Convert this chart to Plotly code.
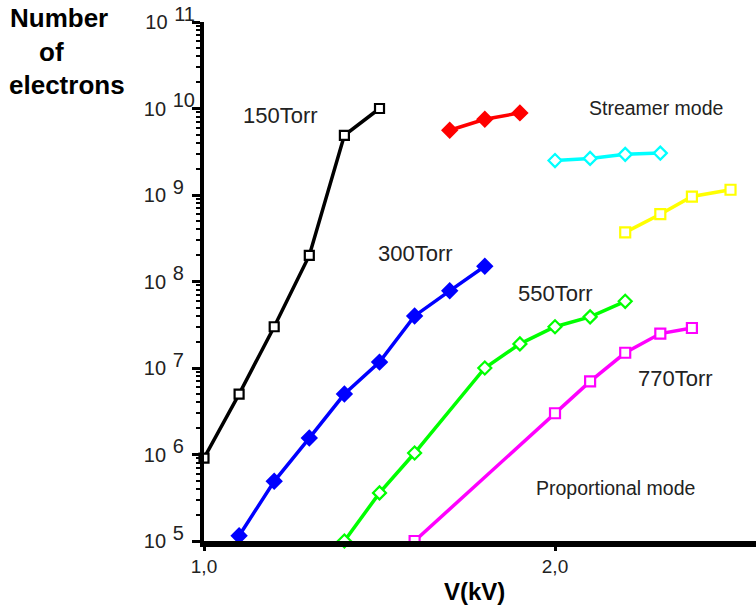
import plotly.graph_objects as go

# ---- data ----
v150 = [1.0, 1.1, 1.2, 1.3, 1.4, 1.5]
n150 = [9.1e5, 5.0e6, 3.0e7, 2.0e8, 4.9e9, 1.0e10]

v300 = [1.1, 1.2, 1.3, 1.4, 1.5, 1.6, 1.7, 1.8]
n300 = [1.15e5, 4.9e5, 1.55e6, 5.0e6, 1.17e7, 4.0e7, 7.8e7, 1.5e8]

v550 = [1.4, 1.5, 1.6, 1.8, 1.9, 2.0, 2.1, 2.2]
n550 = [1.0e5, 3.6e5, 1.04e6, 1.0e7, 1.9e7, 3.0e7, 3.9e7, 5.9e7]

v770 = [1.6, 2.0, 2.1, 2.2, 2.3, 2.39]
n770 = [1.0e5, 3.0e6, 7.0e6, 1.5e7, 2.5e7, 2.9e7]

v_red = [1.7, 1.8, 1.9]
n_red = [5.6e9, 7.5e9, 8.9e9]

v_cyan = [2.0, 2.1, 2.2, 2.3]
n_cyan = [2.5e9, 2.65e9, 2.95e9, 3.05e9]

v_yel = [2.2, 2.3, 2.39, 2.5]
n_yel = [3.7e8, 6.0e8, 9.6e8, 1.15e9]

y_exps = [5, 6, 7, 8, 9, 10, 11]
x_ticks = [1.0, 2.0]
x_ticktext = ["1,0", "2,0"]

FONT = "Liberation Sans, Arial, sans-serif"

fig = go.Figure()

def add(x, y, color, symbol, filled, msize=10):
    fig.add_trace(go.Scatter(
        x=x, y=y, mode="lines+markers",
        line=dict(color=color, width=3.5),
        marker=dict(symbol=symbol, size=msize,
                    color=color if filled else "white",
                    line=dict(color=color, width=2.2)),
        cliponaxis=False, showlegend=False))

add(v150, n150, "black", "square", False, 9)
add(v300, n300, "#0000FF", "diamond", True, 11)
add(v550, n550, "#00FF00", "diamond", False, 10)
add(v770, n770, "#FF00FF", "square", False, 10)
add(v_red, n_red, "#FF0000", "diamond", True, 11)
add(v_cyan, n_cyan, "#00FFFF", "diamond", False, 10)
add(v_yel, n_yel, "#FFFF00", "square", False, 10)

NB = "\u00a0"
ytickvals = [10.0 ** e for e in y_exps]
yticktext = []
for e in y_exps:
    pad = "" if e >= 10 else NB * 2
    yticktext.append(
        f"10<span style='font-size:24px'>{NB}</span>"
        f"<sup><span style='font-size:20px'>{e}</span></sup>{pad}")

minor_vals = [k * 10.0 ** e for e in y_exps[:-1] for k in range(2, 10)]

fig.update_layout(
    width=756, height=610,
    margin=dict(l=204, r=0, t=22, b=69),
    paper_bgcolor="white", plot_bgcolor="white",
    font=dict(family=FONT, color="black"),
    xaxis=dict(range=[1.0, 2.5726], showgrid=False, zeroline=False,
               showline=True, linecolor="black", linewidth=6,
               tickmode="array", tickvals=x_ticks, ticktext=x_ticktext,
               ticks="outside", ticklen=4, tickwidth=3, tickcolor="black",
               ticklabelstandoff=-1,
               tickfont=dict(size=19, family=FONT, color="#222")),
    yaxis=dict(type="log", range=[5, 11], showgrid=False, zeroline=False,
               showline=True, linecolor="black", linewidth=4,
               tickmode="array", tickvals=ytickvals, ticktext=yticktext,
               ticks="outside", ticklen=8, tickwidth=3, tickcolor="black",
               ticklabelstandoff=-7,
               tickfont=dict(size=20, family=FONT, color="#222"),
               minor=dict(ticks="outside", ticklen=4, tickwidth=2,
                          tickcolor="black", tickmode="array",
                          tickvals=minor_vals, showgrid=False)),
)

def px2x(px):
    return 1.0 + (px - 204) / 351.0

def py2y(py):
    return 5 + (541 - py) / 86.5

def ppx(px):
    return (px - 204) / 552.0

def ppy(py):
    return (541 - py) / 519.0

labels = [
    ("150Torr", 280, 115, 22),
    ("300Torr", 415, 253, 22),
    ("550Torr", 555, 293, 22),
    ("770Torr", 675, 378, 22),
    ("Streamer mode", 656, 108, 19.5),
    ("Proportional mode", 615, 488, 19.5),
]
for t, px, py, fs in labels:
    fig.add_annotation(x=px2x(px), y=py2y(py), xref="x", yref="y", text=t,
                       showarrow=False, xanchor="center", yanchor="middle",
                       font=dict(size=fs, family=FONT, color="#222"))

for t, px, py in [("Number", 59, 18), ("of", 51, 52), ("electrons", 67, 85)]:
    fig.add_annotation(x=ppx(px), y=ppy(py), xref="paper", yref="paper",
                       text=f"<b>{t}</b>", showarrow=False,
                       xanchor="center", yanchor="middle",
                       font=dict(size=26, family=FONT, color="black"))

fig.add_annotation(x=ppx(474), y=ppy(591), xref="paper", yref="paper",
                   text="<b>V(kV)</b>", showarrow=False,
                   xanchor="center", yanchor="middle",
                   font=dict(size=24, family=FONT, color="black"))

fig.write_html("out.html")
